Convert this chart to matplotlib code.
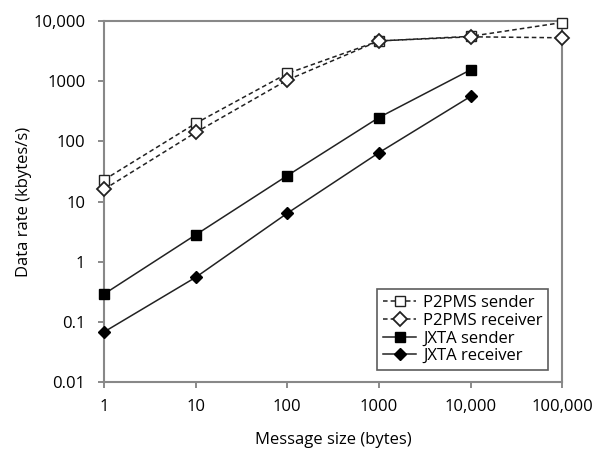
import matplotlib
matplotlib.use("Agg")
import matplotlib.pyplot as plt
from matplotlib.ticker import FixedLocator, NullLocator

plt.rcParams['font.family'] = ['Open Sans', 'DejaVu Sans']

sizes = [1, 10, 100, 1000, 10000, 100000]
p2pms_sender = [23, 200, 1350, 4700, 5600, 9500]
p2pms_receiver = [16, 141, 1050, 4700, 5500, 5300]
jxta_sizes = [1, 10, 100, 1000, 10000]
jxta_sender = [0.29, 2.8, 27, 250, 1550]
jxta_receiver = [0.068, 0.55, 6.4, 65, 560]

xticks = [1, 10, 100, 1000, 10000, 100000]
xlabels = ["1", "10", "100", "1000", "10,000", "100,000"]
yticks = [0.01, 0.1, 1, 10, 100, 1000, 10000]
ylabels = ["0.01", "0.1", "1", "10", "100", "1000", "10,000"]

fig = plt.figure(figsize=(5.98, 4.51), dpi=100)
ax = fig.add_axes([0.174, 0.153, 0.766, 0.800])

lc = "#222222"
ax.plot(sizes, p2pms_sender, ls=(0, (3, 2)), color=lc, lw=1.1, marker="s",
        ms=7, mfc="white", mec=lc, clip_on=False, zorder=3, label="P2PMS sender")
ax.plot(sizes, p2pms_receiver, ls=(0, (3, 2)), color=lc, lw=1.1, marker="D",
        ms=7, mfc="white", mec=lc, mew=1.3, clip_on=False, zorder=3,
        label="P2PMS receiver")
ax.plot(jxta_sizes, jxta_sender, ls="-", color=lc, lw=1.1, marker="s",
        ms=7.5, mfc="black", mec="black", clip_on=False, zorder=3,
        label="JXTA sender")
ax.plot(jxta_sizes, jxta_receiver, ls="-", color=lc, lw=1.1, marker="D",
        ms=6.5, mfc="black", mec="black", clip_on=False, zorder=3,
        label="JXTA receiver")

ax.set_xscale("log")
ax.set_yscale("log")
ax.set_xlim(1, 100000)
ax.set_ylim(0.01, 10000)
ax.xaxis.set_major_locator(FixedLocator(xticks))
ax.yaxis.set_major_locator(FixedLocator(yticks))
ax.xaxis.set_minor_locator(NullLocator())
ax.yaxis.set_minor_locator(NullLocator())
ax.set_xticklabels(xlabels, fontsize=12)
ax.set_yticklabels(ylabels, fontsize=12)
ax.tick_params(axis="both", direction="out", length=4.5, width=1.2,
               color="#777777")
ax.tick_params(axis="x", pad=8)
ax.tick_params(axis="y", pad=9)

for s in ax.spines.values():
    s.set_color("#888888")
    s.set_linewidth(1.5)

ax.set_xlabel("Message size (bytes)", fontsize=12)
ax.xaxis.set_label_coords(0.5, -0.138)
ax.set_ylabel("Data rate (kbytes/s)", fontsize=12)
ax.yaxis.set_label_coords(-0.158, 0.5)

leg = ax.legend(loc="lower right", bbox_to_anchor=(0.97, 0.033), fontsize=12,
                frameon=True, fancybox=False, handlelength=2.0,
                borderpad=0.35, labelspacing=0.1, handletextpad=0.4,
                borderaxespad=0)
leg.get_frame().set_edgecolor("#333333")
leg.get_frame().set_linewidth(1.2)

fig.savefig("out.png", dpi=100)
